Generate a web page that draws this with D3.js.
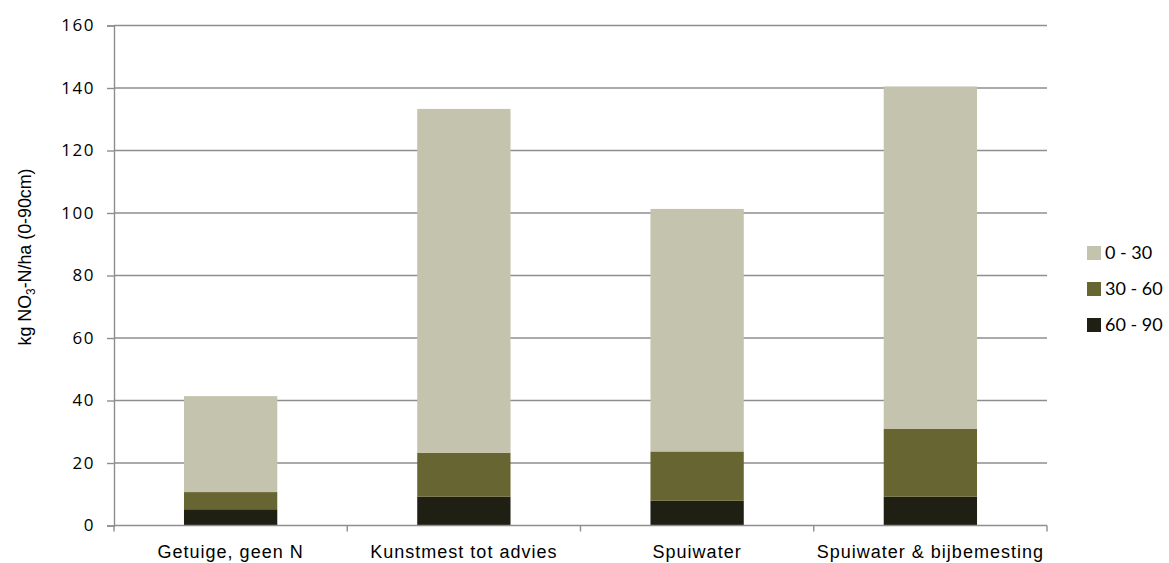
<!DOCTYPE html>
<html>
<head>
<meta charset="utf-8">
<script src="https://cdn.jsdelivr.net/npm/d3@7"></script>
<style>
  body { margin: 0; background: #fff; }
</style>
</head>
<body>
<svg id="grafiek" width="1169" height="563"></svg>
<script>

// Données
let categories = ["Getuige, geen N", "Kunstmest tot advies", "Spuiwater", "Spuiwater & bijbemesting"];
let lagen = ["60 - 90", "30 - 60", "0 - 30"];
let waarden6090 = [5.2, 9.2, 7.9, 9.2];
let waarden3060 = [5.5, 14.1, 15.8, 21.8];
let waarden030 = [30.7, 110.0, 77.6, 109.5];
let yTicks = [0, 20, 40, 60, 80, 100, 120, 140, 160];
let kleuren = {"0 - 30": "#c4c3ae", "30 - 60": "#676633", "60 - 90": "#201f14"};

let svg = d3.select("#grafiek");

let marge = {left: 114, right: 1047, top: 25.5, bottom: 525.5};

let x = d3.scaleBand()
    .domain(categories)
    .range([marge.left, marge.right])
    .paddingInner(0.6)
    .paddingOuter(0.3);

let y = d3.scaleLinear()
    .domain([0, 160])
    .range([marge.bottom, marge.top]);

//Table pour le stack
let tabel = categories.map((c, i) => ({
  cat: c,
  "60 - 90": waarden6090[i],
  "30 - 60": waarden3060[i],
  "0 - 30": waarden030[i]
}));

let series = d3.stack().keys(lagen)(tabel);

//Grille
svg.append("g")
  .selectAll("line")
  .data(yTicks.filter(d => d > 0))
  .enter()
  .append("line")
  .attr("x1", marge.left)
  .attr("x2", marge.right)
  .attr("y1", d => y(d))
  .attr("y2", d => y(d))
  .style("stroke", "#8e8e8e")
  .style("stroke-width", 1.4);

//Barres
svg.append("g")
  .selectAll("g")
  .data(series)
  .enter()
  .append("g")
  .style("fill", d => kleuren[d.key])
  .selectAll("rect")
  .data(d => d)
  .enter()
  .append("rect")
  .attr("x", d => x(d.data.cat))
  .attr("width", x.bandwidth())
  .attr("y", d => y(d[1]))
  .attr("height", d => y(d[0]) - y(d[1]));

//Axe Y
let axeY = svg.append("g")
  .attr("transform", `translate(${marge.left},0)`)
  .call(d3.axisLeft(y).tickValues(yTicks).tickSize(7).tickPadding(12));

axeY.select(".domain").style("stroke", "#8e8e8e").style("stroke-width", 1.4);
axeY.selectAll(".tick line").style("stroke", "#8e8e8e").style("stroke-width", 1.4);
axeY.selectAll(".tick text")
  .style("font-family", "'Open Sans', sans-serif")
  .style("font-size", "17px")
  .style("letter-spacing", "1.5px")
  .style("fill", "#000");

//Axe X
let xGrenzen = d3.range(categories.length + 1).map(i => marge.left + i * (marge.right - marge.left) / categories.length);

svg.append("line")
  .attr("x1", marge.left)
  .attr("x2", marge.right)
  .attr("y1", y(0))
  .attr("y2", y(0))
  .style("stroke", "#8e8e8e")
  .style("stroke-width", 1.4);

svg.append("g")
  .selectAll("line")
  .data(xGrenzen)
  .enter()
  .append("line")
  .attr("x1", d => d)
  .attr("x2", d => d)
  .attr("y1", y(0))
  .attr("y2", y(0) + 6)
  .style("stroke", "#8e8e8e")
  .style("stroke-width", 1.4);

svg.append("g")
  .selectAll("text")
  .data(categories)
  .enter()
  .append("text")
  .attr("x", d => x(d) + x.bandwidth() / 2)
  .attr("y", 558)
  .attr("text-anchor", "middle")
  .style("font-family", "'Liberation Sans', Arial, sans-serif")
  .style("font-size", "18px")
  .style("letter-spacing", "1px")
  .style("fill", "#000")
  .text(d => d);

//Titre axe Y
let titre = svg.append("text")
  .attr("transform", "translate(31,257) rotate(-90)")
  .attr("text-anchor", "middle")
  .attr("textLength", 177)
  .attr("lengthAdjust", "spacingAndGlyphs")
  .style("font-family", "'Liberation Sans', Arial, sans-serif")
  .style("font-size", "18px")
  .style("fill", "#000");

titre.append("tspan").text("kg NO");
titre.append("tspan").attr("dy", 4).style("font-size", "12px").text("3");
titre.append("tspan").attr("dy", -4).text("-N/ha (0-90cm)");

//Légende
let legende = svg.append("g")
  .selectAll("g")
  .data(lagen.slice().reverse())
  .enter()
  .append("g")
  .attr("transform", (d, i) => `translate(1087,${246 + i * 36})`);

legende.append("rect")
  .attr("width", 14)
  .attr("height", 14)
  .style("fill", d => kleuren[d]);

legende.append("text")
  .attr("x", 18)
  .attr("y", 7)
  .attr("dy", "0.36em")
  .style("font-family", "Lato, sans-serif")
  .style("font-size", "18px")
  .style("fill", "#000")
  .text(d => d);

</script>
</body>
</html>
